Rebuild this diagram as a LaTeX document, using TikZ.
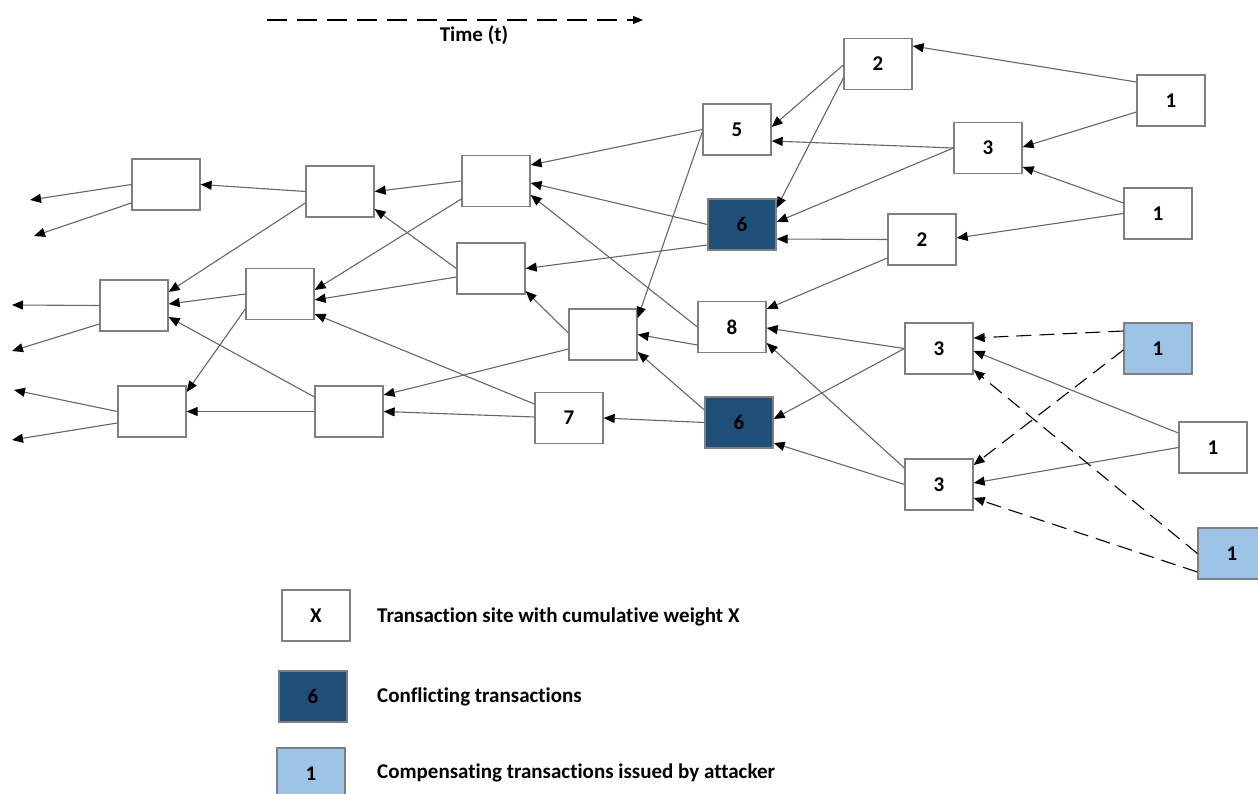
\documentclass[tikz,border=0pt]{standalone}
\usepackage{fontspec}
\setmainfont{Carlito}[Ligatures=NoCommon]
\usetikzlibrary{arrows.meta}
\definecolor{linegray}{HTML}{666666}
\definecolor{boxgray}{HTML}{7F7F7F}
\definecolor{darkblue}{HTML}{1F4E79}
\definecolor{lightblue}{HTML}{9DC3E6}
\begin{document}
\begin{tikzpicture}[x=1pt,y=-1pt,
  site/.style={draw=boxgray, line width=1.3pt, fill=white, minimum width=68pt, minimum height=51pt, inner sep=0pt, font=\fontsize{21}{25}\selectfont\bfseries},
  conflict/.style={site, fill=darkblue},
  attacker/.style={site, fill=lightblue},
  edge/.style={draw=linegray, line width=1.1pt, -{Triangle[length=11pt,width=9pt,color=black]}},
  atk/.style={draw=black, line width=1.1pt, dash pattern=on 15pt off 8pt, -{Triangle[length=11pt,width=9pt,color=black]}},
  timeline/.style={draw=black, line width=1.1pt, dash pattern=on 20pt off 10pt, -{Triangle[length=10pt,width=8pt]}},
  lbl/.style={font=\fontsize{21}{25}\selectfont\bfseries, anchor=west, inner sep=0pt}]
\useasboundingbox (0,0) rectangle (1258,794);

% time arrow
\coordinate (t0) at (267,20);
\coordinate (t1) at (643,20);
\draw[timeline] (t0) -- (t1);
\node[lbl, anchor=center] (time) at (474,35) {Time (t)};

% sites
\node[site] (A) at (166,184.5) {};
\node[site] (B) at (340,191.5) {};
\node[site] (C) at (134,305.5) {};
\node[site] (D) at (280,294) {};
\node[site] (E) at (152,411.5) {};
\node[site] (F) at (349,411.5) {};
\node[site] (G) at (496,181) {};
\node[site] (H) at (491,268.5) {};
\node[site] (I) at (603,334.5) {};
\node[site] (J) at (569,418) {7};
\node[site] (K) at (737,129.5) {5};
\node[conflict] (L) at (742,224.5) {6};
\node[site] (M) at (732,327) {8};
\node[conflict] (N) at (739,422.5) {6};
\node[site] (O) at (878,64) {2};
\node[site] (P) at (988,148) {3};
\node[site] (Q) at (922,239.5) {2};
\node[site] (R) at (1171,100.5) {1};
\node[site] (S) at (1158,213.5) {1};
\node[site] (T) at (939,348.5) {3};
\node[site] (U) at (939,484.5) {3};
\node[attacker] (V) at (1158,348.5) {1};
\node[site] (W) at (1213,447.5) {1};
\node[attacker] (X) at (1232,553.5) {1};

% free ends on the left
\coordinate (a1) at (30,200);
\coordinate (a2) at (34,236);
\coordinate (c1) at (12,305);
\coordinate (c2) at (12,351);
\coordinate (e1) at (14,390);
\coordinate (e2) at (12,440);
\draw[edge] (A.west) -- (a1);
\draw[edge] ([yshift=-18.5pt]A.west) -- (a2);
\draw[edge] (C.west) -- (c1);
\draw[edge] ([yshift=-18.5pt]C.west) -- (c2);
\draw[edge] (E.west) -- (e1);
\draw[edge] ([yshift=-11.5pt]E.west) -- (e2);

% connectors
\draw[edge] (B.west) -- (A.east);
\draw[edge] ([yshift=-11.5pt]B.west) -- ([yshift=13.5pt]C.east);
\draw[edge] (D.west) -- ([yshift=1.5pt]C.east);
\draw[edge] ([yshift=-15pt]D.west) -- ([yshift=19.5pt]E.east);
\draw[edge] ([yshift=14.5pt]F.west) -- ([yshift=-11.5pt]C.east);
\draw[edge] (F.west) -- (E.east);
\draw[edge] (G.west) -- (B.east);
\draw[edge] (H.west) -- ([yshift=-17.5pt]B.east);
\draw[edge] ([yshift=-18pt]G.west) -- ([yshift=4pt]D.east);
\draw[edge] ([yshift=-8.5pt]H.west) -- ([yshift=-6pt]D.east);
\draw[edge] ([yshift=14pt]J.west) -- ([yshift=-20pt]D.east);
\draw[edge] ([yshift=-14.5pt]I.west) -- ([yshift=16.5pt]F.east);
\draw[edge] ([yshift=1pt]J.west) -- (F.east);
\draw[edge] ([yshift=1.5pt]I.west) -- ([yshift=-22.5pt]H.east);
\draw[edge] (K.west) -- ([yshift=16pt]G.east);
\draw[edge] (L.west) -- ([yshift=-2pt]G.east);
\draw[edge] (M.west) -- ([yshift=-14pt]G.east);
\draw[edge] ([yshift=-20.5pt]L.west) -- (H.east);
\draw[edge] ([yshift=-2.5pt]K.west) -- ([yshift=16.5pt]I.east);
\draw[edge] ([yshift=-18pt]M.west) -- (I.east);
\draw[edge] ([yshift=12.5pt]N.west) -- ([yshift=-17.5pt]I.east);
\draw[edge] (N.west) -- (J.east);
\draw[edge] ([yshift=-1pt]O.west) -- ([yshift=2.5pt]K.east);
\draw[edge] ([yshift=-14pt]O.west) -- ([yshift=16.5pt]L.east);
\draw[edge] (P.west) -- ([yshift=-11.5pt]K.east);
\draw[edge] (P.west) -- ([yshift=2.5pt]L.east);
\draw[edge] (Q.west) -- ([yshift=-14.5pt]L.east);
\draw[edge] ([yshift=-18.5pt]Q.west) -- ([yshift=18pt]M.east);
\draw[edge] ([yshift=18.5pt]R.west) -- ([yshift=18pt]O.east);
\draw[edge] ([yshift=-11.5pt]R.west) -- ([yshift=1pt]P.east);
\draw[edge] ([yshift=10.5pt]S.west) -- ([yshift=-19pt]P.east);
\draw[edge] (S.west) -- ([yshift=1.5pt]Q.east);
\draw[edge] (T.west) -- ([yshift=-1pt]M.east);
\draw[edge] (T.west) -- ([yshift=3.5pt]N.east);
\draw[edge] ([yshift=16.5pt]U.west) -- ([yshift=-16pt]M.east);
\draw[edge] (U.west) -- ([yshift=-20.5pt]N.east);
\draw[edge] ([yshift=14.5pt]W.west) -- ([yshift=-2.5pt]T.east);
\draw[edge] (W.west) -- ([yshift=1.5pt]U.east);
\draw[atk] ([yshift=17.5pt]V.west) -- ([yshift=10.5pt]T.east);
\draw[atk] ([yshift=-1.5pt]V.west) -- ([yshift=19.5pt]U.east);
\draw[atk] (X.west) -- ([yshift=-21.5pt]T.east);
\draw[atk] ([yshift=-18.5pt]X.west) -- ([yshift=-13.5pt]U.east);

% legend
\node[site] (k1) at (316,615.5) {X};
\node[conflict] (k2) at (313,696.5) {6};
\node[attacker] (k3) at (311,773.5) {1};
\node[lbl] (l1) at (377,617) {Transaction site with cumulative weight X};
\node[lbl] (l2) at (377,697) {Conflicting transactions};
\node[lbl] (l3) at (377,773) {Compensating transactions issued by attacker};
\end{tikzpicture}
\end{document}
